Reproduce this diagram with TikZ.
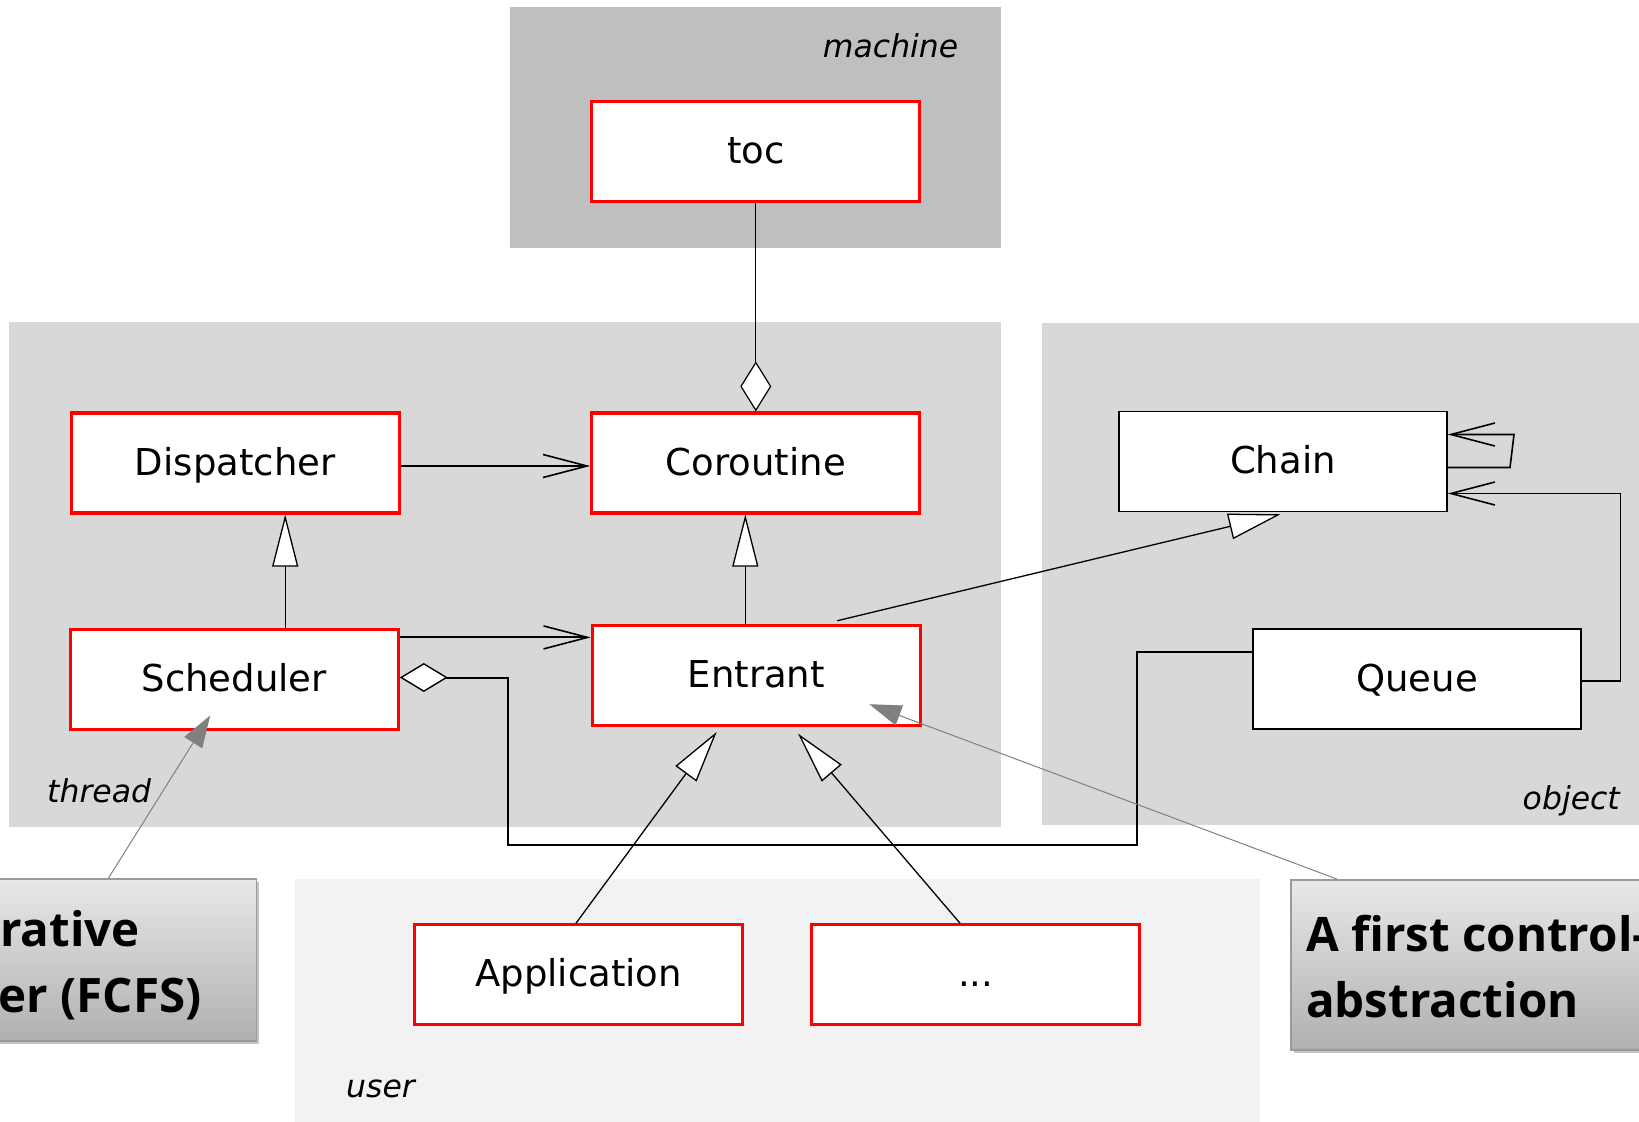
\documentclass[tikz,border=0pt]{standalone}
\usepackage{fontspec}
\setmainfont{DejaVu Sans}
\newfontfamily\callfont{Open Sans}
\usetikzlibrary{arrows.meta,shadows}
\definecolor{machbg}{HTML}{BFBFBF}
\definecolor{thrbg}{HTML}{D8D8D8}
\definecolor{userbg}{HTML}{F2F2F2}
\definecolor{notegray}{HTML}{808080}
\definecolor{callborder}{HTML}{9A9A9A}
\definecolor{calltop}{HTML}{E8E8E8}
\definecolor{callbot}{HTML}{B0B0B0}
\definecolor{callshadow}{HTML}{C4C4C4}
\begin{document}
\begin{tikzpicture}[x=1pt,y=-1pt,
  cls/.style={draw=red, line width=3.2pt, fill=white, minimum width=328pt, minimum height=100pt,
    inner sep=0pt, text height=30pt, text depth=6pt, font=\fontsize{37}{44}\selectfont},
  plaincls/.style={cls, draw=black, line width=1.5pt},
  grouplbl/.style={inner sep=0pt, font=\itshape\fontsize{31.5}{38}\selectfont},
  notebox/.style={draw=callborder, line width=1.5pt, top color=calltop, bottom color=callbot,
    drop shadow={shadow xshift=3pt, shadow yshift=-3pt, fill=callshadow, opacity=1}},
  calltxt/.style={inner sep=0pt, font=\callfont\bfseries\fontsize{47.5}{66}\selectfont},
  assoc/.style={draw=black, line width=2pt},
  openarr/.style={-{Straight Barb[length=44pt,width=23pt,line width=1.6pt]}},
  gen/.style={draw=black, line width=1.3pt, -{Triangle[length=52pt,width=26pt,fill=white,line width=1.3pt]}},
  aggend/.style={-{Diamond[length=50pt,width=31pt,fill=white,line width=1.2pt]}},
  aggstart/.style={{Diamond[length=48pt,width=29pt,fill=white,line width=1.4pt]}-},
  noteline/.style={draw=notegray, line width=1pt, -{Triangle[length=32pt,width=21pt,fill=notegray]}}
]
\useasboundingbox (0,0) rectangle (1639,1122);
\clip (0,0) rectangle (1639,1122);

% group backgrounds
\fill[machbg] (510,7) rectangle (1000.5,248);
\fill[thrbg] (8.5,322) rectangle (1000.5,827);
\fill[thrbg] (1042,323) rectangle (1650,825);
\fill[userbg] (295,879) rectangle (1260,1130);

\node[grouplbl, anchor=base east] (lblmachine) at (958.5,57) {machine};
\node[grouplbl, anchor=base west] (lblthread) at (47,802) {thread};
\node[grouplbl, anchor=base east] (lblobject) at (1620,809) {object};
\node[grouplbl, anchor=base west] (lbluser) at (346,1097) {user};

% classes
\node[cls] (toc) at (755.8,151.6) {toc};
\node[cls] (Dispatcher) at (235.2,463) {Dispatcher};
\node[cls] (Coroutine) at (755.8,463) {Coroutine};
\node[cls] (Scheduler) at (234.2,679.5) {Scheduler};
\node[cls] (Entrant) at (756.3,675.3) {Entrant};
\node[plaincls] (Chain) at (1283,461.5) {Chain};
\node[plaincls] (Queue) at (1417,679) {Queue};
\node[cls] (Application) at (578.6,974.8) {Application};
\node[cls] (dots) at (975.8,974.8) {...};

% connectors
\draw[line width=1pt, aggend] (toc.south) -- (Coroutine.north);
\draw[assoc, openarr] ([yshift=-3pt]Dispatcher.east) -- ([yshift=-3pt]Coroutine.west);
\draw[gen] ([xshift=51pt]Scheduler.north) -- ([xshift=50pt]Dispatcher.south);
\draw[gen] ([xshift=-11pt]Entrant.north) -- ([xshift=-10.5pt]Coroutine.south);
\draw[assoc, openarr] ([yshift=-9.5pt]Scheduler.north east) -- ([yshift=-9.5pt]Scheduler.north east -| Entrant.west);
\draw[assoc, aggstart] ([yshift=2pt]Scheduler.east) -- (508,677.5) -- (508,845) -- (1137.3,845) |- ([yshift=26.7pt]Queue.west);
\draw[gen] ([xshift=81pt,yshift=3pt]Entrant.north) -- ([xshift=-2.5pt,yshift=-2pt]Chain.south);
\draw[line width=1.6pt, openarr] ([yshift=-2pt]Queue.east) -- (1620.5,681) |- ([yshift=-32pt]Chain.east);
\draw[line width=1.6pt, openarr] ([yshift=-6pt]Chain.east) -- (1510,467.5) -- (1514,434.5) -- ([yshift=27pt]Chain.east);
\draw[gen] ([xshift=-2.6pt]Application.north) -- ([xshift=-39.6pt,yshift=-5pt]Entrant.south);
\draw[gen] ([xshift=-15.8pt]dots.north) -- ([xshift=41.7pt,yshift=-6.7pt]Entrant.south);

% callouts
\node[notebox, minimum width=270pt, minimum height=162pt, anchor=north east, inner sep=0pt] (leftnote) at (257,878) {};
\node[calltxt, anchor=base east] (lt1) at (140,946) {rative};
\node[calltxt, anchor=base east] (lt2) at (201.7,1012) {er (FCFS)};
\node[notebox, minimum width=370pt, minimum height=170pt, anchor=north west, inner sep=0pt] (rightnote) at (1290,879) {};
\node[calltxt, anchor=base west] (rt1) at (1306,951) {A first control-};
\node[calltxt, anchor=base west] (rt2) at (1306,1017) {abstraction};

\draw[noteline] ([xshift=-12.7pt]leftnote.north) -- ([xshift=-24pt,yshift=15.6pt]Scheduler.south);
\draw[noteline] ([xshift=-139pt]rightnote.north) -- ([xshift=113pt,yshift=22.7pt]Entrant.south);
\end{tikzpicture}
\end{document}
